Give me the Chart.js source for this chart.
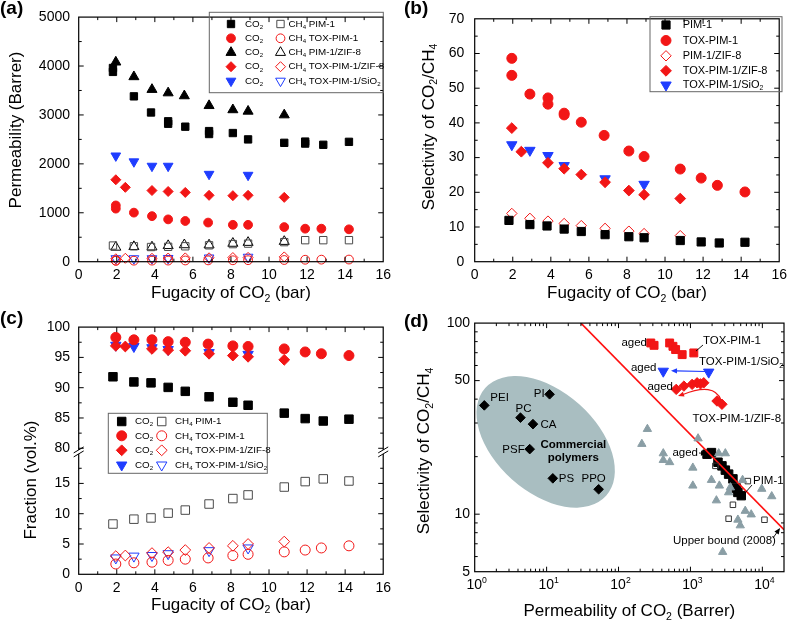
<!DOCTYPE html>
<html>
<head>
<meta charset="utf-8">
<script src="https://cdn.jsdelivr.net/npm/chart.js@4.4.1/dist/chart.umd.min.js"></script>
<style>
  body { margin: 0; background: #fff; }
  #wrap { position: relative; width: 792px; height: 627px; background: #fff; }
  canvas { position: absolute; }
</style>
</head>
<body>
<div id="wrap">
  <canvas id="ca" width="396" height="310" style="left:0;top:0"></canvas>
  <canvas id="cb" width="396" height="310" style="left:396px;top:0"></canvas>
  <canvas id="cc" width="396" height="317" style="left:0;top:310px"></canvas>
  <canvas id="cd" width="396" height="317" style="left:396px;top:310px"></canvas>
</div>
<script>
// ---------- (a) permeability vs fugacity ----------
const aPimX = [1.8, 1.8, 2.9, 3.8, 4.7, 4.7, 5.6, 6.85, 6.85, 8.1, 8.9, 10.8, 11.9, 11.9, 12.85, 14.2];
const aPimCO2 = [3880, 3960, 3380, 3050, 2870, 2820, 2760, 2670, 2610, 2630, 2500, 2430, 2455, 2415, 2390, 2450];
const aPimCH4X = [1.8, 2.9, 3.8, 4.7, 5.6, 6.85, 8.1, 8.9, 10.8, 11.9, 12.85, 14.2];
const aPimCH4 = [330, 315, 300, 305, 315, 335, 360, 370, 400, 440, 440, 440];
const aToxX = [1.95, 1.95, 2.9, 3.85, 4.7, 5.6, 6.8, 8.1, 8.9, 10.8, 11.9, 12.75, 14.2];
const aToxCO2 = [1150, 1085, 1003, 931, 865, 832, 800, 754, 754, 708, 675, 675, 662];
const aToxCH4 = [20, 20, 21, 22, 23, 25, 27, 29, 31, 35, 40, 42, 44];
const aPzX = [1.95, 2.9, 3.85, 4.7, 5.55, 6.85, 8.1, 8.9, 10.8];
const aPzCO2 = [4080, 3780, 3520, 3450, 3390, 3190, 3105, 3075, 3000];
const aPzCH4 = [295, 308, 300, 328, 345, 341, 375, 393, 413];
const aTzX = [1.95, 2.45, 3.85, 4.7, 5.6, 6.85, 8.1, 8.9, 10.8];
const aTzCO2 = [1675, 1520, 1455, 1435, 1416, 1357, 1350, 1357, 1315];
const aTzCH4 = [60, 70, 70, 75, 78, 80, 85, 88, 98];
const aTsX = [1.95, 2.9, 3.85, 4.7, 6.85, 8.9];
const aTsCO2 = [2165, 2045, 1955, 1955, 1790, 1770];
const aTsCH4 = [65, 65, 65, 70, 80, 95];

// ---------- (b) selectivity vs fugacity ----------
const bPimX = [1.8, 2.9, 3.8, 4.7, 5.6, 6.85, 8.1, 8.9, 10.8, 11.9, 12.85, 14.2];
const bPim = [11.9, 10.7, 10.3, 9.4, 8.7, 7.8, 7.2, 6.9, 6.1, 5.7, 5.4, 5.6];
const bToxX = [1.95, 1.95, 2.9, 3.85, 3.85, 4.7, 4.7, 5.6, 6.8, 8.1, 8.9, 10.8, 11.9, 12.75, 14.2];
const bTox = [58.6, 53.7, 48.3, 47.2, 45.4, 42.8, 42.3, 40.2, 36.4, 31.9, 30.3, 26.7, 24.1, 22.0, 20.1];
const bPzX = [1.95, 2.9, 3.85, 4.7, 5.6, 6.85, 8.1, 8.9, 10.8];
const bPz = [13.9, 12.5, 11.7, 11.0, 10.4, 9.6, 8.8, 8.1, 7.5];
const bTzX = [1.95, 2.45, 3.85, 4.7, 5.6, 6.85, 8.1, 8.9, 10.8];
const bTz = [38.5, 31.7, 28.5, 26.8, 25.1, 22.9, 20.5, 19.3, 18.2];
const bTsX = [1.95, 2.9, 3.85, 4.7, 6.85, 8.9];
const bTs = [33.7, 32.1, 30.6, 27.7, 23.9, 22.3];

// ---------- (c) permeate fraction vs fugacity ----------
const cPimX = [1.8, 2.9, 3.8, 4.7, 5.6, 6.85, 8.1, 8.9, 10.8, 11.9, 12.85, 14.2];
const cPimCO2 = [91.8, 90.95, 90.8, 90.05, 89.4, 88.5, 87.6, 87.1, 85.8, 84.9, 84.5, 84.8];
const cPimCH4 = [8.3, 9.1, 9.3, 10.1, 10.6, 11.6, 12.5, 13.1, 14.4, 15.3, 15.75, 15.4];
const cToxX = [1.95, 2.9, 3.85, 4.7, 5.6, 6.8, 8.1, 8.9, 10.8, 11.9, 12.75, 14.2];
const cToxCO2 = [98.3, 97.9, 97.9, 97.6, 97.5, 97.2, 96.9, 96.8, 96.4, 95.9, 95.6, 95.3];
const cToxCH4 = [1.7, 1.9, 2.0, 2.3, 2.5, 2.7, 3.1, 3.3, 3.7, 4.0, 4.35, 4.7];
const cTzX = [1.95, 2.45, 3.85, 4.7, 5.6, 6.85, 8.1, 8.9, 10.8];
const cTzCO2 = [96.9, 96.8, 96.4, 96.2, 96.1, 95.6, 95.3, 95.1, 94.6];
const cTzCH4 = [3.0, 3.1, 3.5, 3.65, 4.0, 4.35, 4.7, 5.0, 5.4];
const cTsX = [1.95, 2.9, 3.85, 4.7, 6.85, 8.9];
const cTsCO2 = [97.0, 96.8, 96.6, 96.3, 95.8, 95.5];
const cTsCH4 = [2.7, 3.0, 3.1, 3.4, 3.9, 4.35];

// ---------- (d) Robeson plot ----------
const dLitX = [252, 211, 419, 419, 514, 1277, 1080, 1080, 1959, 2472, 3057, 2525, 2296, 3396, 3589, 5309, 5781, 7000, 4570, 4930, 9810, 13500, 2806];
const dLitY = [27.9, 23.3, 20.8, 19.2, 18.7, 24.9, 17.5, 14.1, 15.1, 20.8, 20.8, 14.1, 11.8, 13.0, 13.8, 15.1, 10.4, 9.96, 9.35, 8.73, 13.56, 12.4, 6.34];
const dOldPimX = [2224, 6280, 3897, 3396, 10700];
const dOldPimY = [17.9, 14.9, 11.2, 9.47, 9.35];
const dPimX = [1702, 1959, 2415, 2742, 3057, 3396, 3897, 4343, 4570, 5090];
const dPimY = [20.6, 21.0, 18.7, 17.9, 17.0, 16.2, 15.3, 13.7, 13.0, 12.5];
const dToxX = [281, 312, 514, 571, 622, 767, 1114];
const dToxY = [78.7, 76.5, 78.7, 75.6, 72.7, 68.4, 69.8];
const dTsX = [419, 1796];
const dTsY = [56.0, 55.4];
const dTzX = [634, 811, 1055, 1238, 1380, 1532, 2340, 2742];
const dTzY = [45.0, 46.8, 47.8, 48.7, 48.1, 48.7, 39.1, 37.6];
const dComNames = ['PEI', 'PI', 'PC', 'CA', 'PSF', 'PS', 'PPO'];
const dComX = [1.36, 11.0, 4.33, 6.46, 5.82, 12.2, 52.9];
const dComY = [37.1, 42.4, 32.0, 29.6, 21.9, 15.4, 13.5];
const dBoundX = [30, 20000];
const dBoundY = [100, 8.3];

// ---------- styling ----------
const FONT = '"Liberation Sans", Arial, Helvetica, sans-serif';
const RED = '#f21616', BLUE = '#1f3dff', BLACK = '#000000', DGRAY = '#4a4a4a';
const TRI = '#8a9ea5', ELLIPSE = '#a9bec1';

const range = (a, b, s) => { const r = []; for (let v = a; v <= b + 1e-9; v += s) r.push(+v.toFixed(6)); return r; };
const plain = v => String(Math.round(v * 100) / 100);

function mk(shape, color, r, open) { return { shape, color, r, open: !!open }; }

const SHAPES = { sq: ['rect', 0], ci: ['circle', 0], tu: ['triangle', 0], td: ['triangle', 180], di: ['rectRot', 0] };

function series(xs, ys, m, tf) {
  return {
    data: xs.map((x, i) => ({ x, y: tf ? tf(ys[i]) : ys[i] })),
    pointStyle: SHAPES[m.shape][0],
    pointRotation: SHAPES[m.shape][1],
    pointRadius: m.r, pointHoverRadius: m.r,
    backgroundColor: m.open ? 'rgba(0,0,0,0)' : m.color,
    borderColor: m.color,
    pointBorderWidth: 1,
    clip: false
  };
}

// text with _x subscripts and ^x superscripts
function richParts(str) {
  const parts = [], re = /([_^])(.)/g;
  let last = 0, m;
  while ((m = re.exec(str))) {
    if (m.index > last) parts.push({ t: str.slice(last, m.index), k: '' });
    parts.push({ t: m[2], k: m[1] });
    last = re.lastIndex;
  }
  if (last < str.length) parts.push({ t: str.slice(last), k: '' });
  return parts;
}
function drawRich(ctx, str, x, y, size, o) {
  o = o || {};
  const parts = richParts(str);
  const f = s => (o.bold ? 'bold ' : '') + s + 'px ' + FONT;
  let total = 0;
  parts.forEach(p => { ctx.font = f(p.k ? size * 0.62 : size); p.w = ctx.measureText(p.t).width; total += p.w; });
  let sx = o.align === 'center' ? -total / 2 : o.align === 'right' ? -total : 0;
  ctx.save();
  ctx.translate(x, y);
  if (o.rot) ctx.rotate(o.rot);
  ctx.textBaseline = 'middle';
  ctx.textAlign = 'left';
  ctx.fillStyle = o.color || '#000';
  parts.forEach(p => {
    ctx.font = f(p.k ? size * 0.62 : size);
    const dy = p.k === '_' ? size * 0.32 : p.k === '^' ? -size * 0.33 : 0;
    ctx.fillText(p.t, sx, dy);
    sx += p.w;
  });
  ctx.restore();
}

function drawMarker(ctx, m, x, y) {
  const r = m.r;
  ctx.beginPath();
  if (m.shape === 'sq') { const h = r * Math.SQRT1_2; ctx.rect(x - h, y - h, 2 * h, 2 * h); }
  else if (m.shape === 'ci') ctx.arc(x, y, r, 0, 2 * Math.PI);
  else if (m.shape === 'di') { ctx.moveTo(x - r, y); ctx.lineTo(x, y - r); ctx.lineTo(x + r, y); ctx.lineTo(x, y + r); ctx.closePath(); }
  else {
    const s = m.shape === 'tu' ? 1 : -1;
    ctx.moveTo(x, y - s * r); ctx.lineTo(x + 0.866 * r, y + s * 0.5 * r); ctx.lineTo(x - 0.866 * r, y + s * 0.5 * r); ctx.closePath();
  }
  ctx.strokeStyle = m.color; ctx.lineWidth = 1;
  if (!m.open) { ctx.fillStyle = m.color; ctx.fill(); }
  ctx.stroke();
}

function drawLegend(ctx, L) {
  ctx.save();
  ctx.strokeStyle = '#666'; ctx.lineWidth = 1;
  ctx.strokeRect(L.box[0], L.box[1], L.box[2] - L.box[0], L.box[3] - L.box[1]);
  L.rows.forEach((r, i) => {
    const y = L.rowY[i];
    r.marks.forEach((m, j) => drawMarker(ctx, m, L.markX[j], y));
    r.texts.forEach((t, j) => drawRich(ctx, t, L.textX[j], y, L.size));
  });
  ctx.restore();
}

function arrowHead(ctx, x0, y0, x1, y1, color) {
  const a = Math.atan2(y1 - y0, x1 - x0), L = 6, W = 2.6;
  ctx.save();
  ctx.fillStyle = color;
  ctx.beginPath();
  ctx.moveTo(x1, y1);
  ctx.lineTo(x1 - L * Math.cos(a) + W * Math.sin(a), y1 - L * Math.sin(a) - W * Math.cos(a));
  ctx.lineTo(x1 - L * Math.cos(a) - W * Math.sin(a), y1 - L * Math.sin(a) + W * Math.cos(a));
  ctx.closePath();
  ctx.fill();
  ctx.restore();
}

function decor(o) {
  return {
    id: 'decor',
    beforeDatasetsDraw(chart) { if (o.under) o.under(chart); },
    afterDraw(chart) {
      const ctx = chart.ctx, a = chart.chartArea, sx = chart.scales.x, sy = chart.scales.y;
      ctx.save();
      ctx.strokeStyle = '#000';
      ctx.lineWidth = 1.2;
      ctx.strokeRect(a.left, a.top, a.right - a.left, a.bottom - a.top);
      ctx.lineWidth = 1;
      ctx.beginPath();
      const tx = (vals, len) => vals.forEach(v => {
        const p = sx.getPixelForValue(v);
        if (p < a.left + 0.5 || p > a.right - 0.5) return;
        ctx.moveTo(p, a.bottom); ctx.lineTo(p, a.bottom - len);
        ctx.moveTo(p, a.top); ctx.lineTo(p, a.top + len);
      });
      const ty = (vals, len) => vals.forEach(v => {
        const p = sy.getPixelForValue(v);
        if (p < a.top + 0.5 || p > a.bottom - 0.5) return;
        ctx.moveTo(a.left, p); ctx.lineTo(a.left + len, p);
        ctx.moveTo(a.right, p); ctx.lineTo(a.right - len, p);
      });
      tx(o.xMajor, 5); tx(o.xMinor, 3); ty(o.yMajor, 5); ty(o.yMinor, 3);
      ctx.stroke();
      if (o.breakAt != null) {
        const yb = sy.getPixelForValue(o.breakAt);
        [a.left, a.right].forEach(x => {
          ctx.fillStyle = '#fff';
          ctx.fillRect(x - 3, yb - 2, 6, 4);
          ctx.beginPath();
          ctx.moveTo(x - 5, yb + 1); ctx.lineTo(x + 5, yb - 5);
          ctx.moveTo(x - 5, yb + 5); ctx.lineTo(x + 5, yb - 1);
          ctx.lineWidth = 1; ctx.strokeStyle = '#000';
          ctx.stroke();
        });
      }
      drawRich(ctx, o.xTitle, (a.left + a.right) / 2, o.xTitleY, 17, { align: 'center' });
      drawRich(ctx, o.yTitle, o.yTitleX, o.yTitleMid, 17, { align: 'center', rot: -Math.PI / 2 });
      drawRich(ctx, o.tag, o.tagX, o.tagY, 19, { bold: true });
      if (o.legend) drawLegend(ctx, o.legend);
      if (o.over) o.over(chart);
      ctx.restore();
    }
  };
}

function panel(id, o) {
  const tickFont = { family: FONT, size: 14 };
  return new Chart(document.getElementById(id), {
    type: 'scatter',
    data: { datasets: o.datasets },
    options: {
      responsive: false, animation: false, events: [],
      layout: { autoPadding: false, padding: { left: 0, top: o.top, right: o.right, bottom: 0 } },
      plugins: { legend: { display: false }, tooltip: { enabled: false } },
      scales: {
        x: Object.assign({
          type: 'linear', position: 'bottom',
          grid: { display: false, drawTicks: false }, border: { display: false },
          ticks: { font: tickFont, color: '#000', padding: 5, maxRotation: 0, autoSkip: false },
          afterFit: s => { s.height = o.xH; }
        }, o.x),
        y: Object.assign({
          type: 'linear', position: 'left',
          grid: { display: false, drawTicks: false }, border: { display: false },
          ticks: { font: tickFont, color: '#000', padding: o.yPad, autoSkip: false },
          afterFit: s => { s.width = 78.7; }
        }, o.y)
      }
    },
    plugins: [decor(o)]
  });
}

const linTicks = (pad, step) => ({ font: { family: FONT, size: 14 }, color: '#000', padding: pad, stepSize: step, maxRotation: 0, callback: plain });

// markers
const M = {
  pimF: mk('sq', BLACK, 5.2), pimO: mk('sq', DGRAY, 5.2, true),
  toxF: mk('ci', RED, 4.4), toxO: mk('ci', RED, 4.4, true),
  pzF: mk('tu', BLACK, 5.8), pzO: mk('tu', BLACK, 5.8, true),
  tzF: mk('di', RED, 5), tzO: mk('di', RED, 5, true),
  tsF: mk('td', BLUE, 5.6), tsO: mk('td', BLUE, 5.6, true)
};
const MB = {
  pim: mk('sq', BLACK, 5.8), tox: mk('ci', RED, 5), pz: mk('di', RED, 5.2, true),
  tz: mk('di', RED, 5.4), ts: mk('td', BLUE, 6)
};
const MC = {
  pimF: mk('sq', BLACK, 6), pimO: mk('sq', DGRAY, 6, true),
  toxF: mk('ci', RED, 5), toxO: mk('ci', RED, 5, true),
  tzF: mk('di', RED, 5.4), tzO: mk('di', RED, 5.4, true),
  tsF: mk('td', BLUE, 6), tsO: mk('td', BLUE, 6, true)
};

// ---------- panel (a) ----------
panel('ca', {
  top: 7.3, right: 9.3, xH: 48.3, yPad: 8.7,
  x: { min: 0, max: 16, ticks: linTicks(5, 2) },
  y: { min: 0, max: 5000, ticks: linTicks(8.7, 1000) },
  xMajor: range(0, 16, 2), xMinor: range(1, 15, 2), yMajor: range(0, 5000, 1000), yMinor: range(500, 4500, 1000),
  xTitle: 'Fugacity of CO_2 (bar)', xTitleY: 293.3,
  yTitle: 'Permeability (Barrer)', yTitleX: 16.7, yTitleMid: 130,
  tag: '(a)', tagX: 0, tagY: 9,
  legend: {
    box: [209.3, 12.3, 383.3, 92.7], rowY: [24, 38.3, 52.5, 66.7, 81], markX: [231, 280.5], textX: [245, 288.5], size: 9.8,
    rows: [
      { marks: [M.pimF, M.pimO], texts: ['CO_2', 'CH_4 PIM-1'] },
      { marks: [M.toxF, M.toxO], texts: ['CO_2', 'CH_4 TOX-PIM-1'] },
      { marks: [M.pzF, M.pzO], texts: ['CO_2', 'CH_4 PIM-1/ZIF-8'] },
      { marks: [M.tzF, M.tzO], texts: ['CO_2', 'CH_4 TOX-PIM-1/ZIF-8'] },
      { marks: [M.tsF, M.tsO], texts: ['CO_2', 'CH_4 TOX-PIM-1/SiO_2'] }
    ]
  },
  datasets: [
    series(aPimCH4X, aPimCH4, M.pimO),
    series(aToxX, aToxCH4, M.toxO),
    series(aPzX, aPzCH4, M.pzO),
    series(aTzX, aTzCH4, M.tzO),
    series(aTsX, aTsCH4, M.tsO),
    series(aPimX, aPimCO2, M.pimF),
    series(aToxX, aToxCO2, M.toxF),
    series(aPzX, aPzCO2, M.pzF),
    series(aTzX, aTzCO2, M.tzF),
    series(aTsX, aTsCO2, M.tsF)
  ]
});

// ---------- panel (b) ----------
panel('cb', {
  top: 7.3, right: 9.3, xH: 48.3, yPad: 10.4,
  x: { min: 0, max: 16, ticks: linTicks(5, 2) },
  y: { min: 0, max: 70, ticks: linTicks(10.4, 10) },
  xMajor: range(0, 16, 2), xMinor: range(1, 15, 2), yMajor: range(0, 70, 10), yMinor: range(5, 65, 10),
  xTitle: 'Fugacity of CO_2 (bar)', xTitleY: 293.3,
  yTitle: 'Selectivity of CO_2/CH_4', yTitleX: 33, yTitleMid: 127,
  tag: '(b)', tagX: 8, tagY: 9,
  legend: {
    box: [254, 16.7, 386, 91.7], rowY: [25, 40.5, 55.8, 70.8, 85], markX: [270], textX: [286.7], size: 11,
    rows: [
      { marks: [MB.pim], texts: ['PIM-1'] },
      { marks: [MB.tox], texts: ['TOX-PIM-1'] },
      { marks: [MB.pz], texts: ['PIM-1/ZIF-8'] },
      { marks: [MB.tz], texts: ['TOX-PIM-1/ZIF-8'] },
      { marks: [MB.ts], texts: ['TOX-PIM-1/SiO_2'] }
    ]
  },
  datasets: [
    series(bPimX, bPim, MB.pim),
    series(bToxX, bTox, MB.tox),
    series(bPzX, bPz, MB.pz),
    series(bTzX, bTz, MB.tz),
    series(bTsX, bTs, MB.ts)
  ]
});

// ---------- panel (c) : broken y axis 0-19 / 80-100 ----------
const C_SHIFT = 59.2;
const cT = v => (v > 50 ? v - C_SHIFT : v);
const cYTicks = [0, 5, 10, 15, 80, 85, 90, 95, 100];
panel('cc', {
  top: 11, right: 9.3, xH: 52.7, yPad: 8.7,
  x: { min: 0, max: 16, ticks: linTicks(5, 2) },
  y: {
    min: 0, max: cT(100),
    afterBuildTicks: s => { s.ticks = cYTicks.map(v => ({ value: cT(v) })); },
    ticks: { font: { family: FONT, size: 14 }, color: '#000', padding: 8.7, autoSkip: false,
      callback: v => String(v > 20 ? Math.round(v + C_SHIFT) : Math.round(v)) }
  },
  xMajor: range(0, 16, 2), xMinor: range(1, 15, 2),
  yMajor: cYTicks.map(cT), yMinor: [2.5, 7.5, 12.5, 17.5, 82.5, 87.5, 92.5, 97.5].map(cT),
  breakAt: 20.2,
  xTitle: 'Fugacity of CO_2 (bar)', xTitleY: 295,
  yTitle: 'Fraction (vol.%)', yTitleX: 31.7, yTitleMid: 170,
  tag: '(c)', tagX: 0, tagY: 8.5,
  legend: {
    box: [108.3, 103.3, 267.3, 163.3], rowY: [111.5, 125.8, 140.3, 155], markX: [121.7, 161.7], textX: [135, 175], size: 9.8,
    rows: [
      { marks: [MC.pimF, MC.pimO], texts: ['CO_2', 'CH_4 PIM-1'] },
      { marks: [MC.toxF, MC.toxO], texts: ['CO_2', 'CH_4 TOX-PIM-1'] },
      { marks: [MC.tzF, MC.tzO], texts: ['CO_2', 'CH_4 TOX-PIM-1/ZIF-8'] },
      { marks: [MC.tsF, MC.tsO], texts: ['CO_2', 'CH_4 TOX-PIM-1/SiO_2'] }
    ]
  },
  datasets: [
    series(cPimX, cPimCO2, MC.pimF, cT),
    series(cToxX, cToxCO2, MC.toxF, cT),
    series(cTzX, cTzCO2, MC.tzF, cT),
    series(cTsX, cTsCO2, MC.tsF, cT),
    series(cPimX, cPimCH4, MC.pimO, cT),
    series(cToxX, cToxCH4, MC.toxO, cT),
    series(cTzX, cTzCH4, MC.tzO, cT),
    series(cTsX, cTsCH4, MC.tsO, cT)
  ]
});

// ---------- panel (d) ----------
const MD = {
  lit: mk('tu', TRI, 4.8), old: mk('sq', '#333', 3.9, true), pim: mk('sq', BLACK, 6),
  tox: mk('sq', RED, 5.6), ts: mk('td', BLUE, 6), tz: mk('di', RED, 5.2), com: mk('di', BLACK, 4.8)
};
const comLabels = [[6, -8, 'left'], [-5, 0, 'right'], [3, -8.5, 'center'], [7.5, 1, 'left'], [-5, 0.7, 'right'], [6, 0.6, 'left'], [-5, -10.7, 'center']];
const dLogMinor = [];
[1, 10, 100, 1000, 10000].forEach(d => { for (let k = 2; k <= 9; k++) if (k * d < 20000) dLogMinor.push(k * d); });

const boundDs = {
  data: dBoundX.map((x, i) => ({ x, y: dBoundY[i] })),
  showLine: true, borderColor: '#ff1010', borderWidth: 1.6, pointRadius: 0, pointHoverRadius: 0
};

panel('cd', {
  top: 11.7, right: 8, xH: 55.3, yPad: 4.7,
  x: { type: 'logarithmic', min: 1, max: 20000, ticks: { display: false } },
  y: {
    type: 'logarithmic', min: 5, max: 100,
    afterBuildTicks: s => { s.ticks = [5, 10, 50, 100].map(v => ({ value: v })); },
    ticks: { font: { family: FONT, size: 14 }, color: '#000', padding: 4.7, autoSkip: false, callback: v => String(v) }
  },
  xMajor: [1, 10, 100, 1000, 10000], xMinor: dLogMinor,
  yMajor: [5, 10, 50, 100], yMinor: [6, 7, 8, 9, 20, 30, 40, 60, 70, 80, 90],
  xTitle: 'Permeability of CO_2 (Barrer)', xTitleY: 301.7,
  yTitle: 'Selectivity of CO_2/CH_4', yTitleX: 28.3, yTitleMid: 141,
  tag: '(d)', tagX: 8, tagY: 11.5,
  under: chart => {
    const ctx = chart.ctx, sx = chart.scales.x, sy = chart.scales.y;
    ctx.save();
    ctx.fillStyle = ELLIPSE;
    ctx.beginPath();
    ctx.ellipse(sx.getPixelForValue(9.7), sy.getPixelForValue(23.9), 81, 50.5, 41.7 * Math.PI / 180, 0, 2 * Math.PI);
    ctx.fill();
    ctx.restore();
  },
  over: chart => {
    const ctx = chart.ctx, a = chart.chartArea, sx = chart.scales.x, sy = chart.scales.y;
    [1, 10, 100, 1000, 10000].forEach((v, i) => drawRich(ctx, '10^' + i, sx.getPixelForValue(v) + 2, a.bottom + 13.5, 14, { align: 'center' }));
    dComNames.forEach((n, i) => {
      const l = comLabels[i];
      drawRich(ctx, n, sx.getPixelForValue(dComX[i]) + l[0], sy.getPixelForValue(dComY[i]) + l[1], 11.5, { align: l[2] });
    });
    drawRich(ctx, 'Commercial', 177.3, 135, 11.5, { align: 'center', bold: true });
    drawRich(ctx, 'polymers', 177.3, 147.5, 11.5, { align: 'center', bold: true });
    const notes = [
      ['aged', 251, 33, 'right'], ['TOX-PIM-1', 307, 31, 'left'],
      ['aged', 260.5, 58, 'right'], ['TOX-PIM-1/SiO_2', 303, 52, 'left'],
      ['aged', 277, 76.5, 'right'], ['TOX-PIM-1/ZIF-8', 296.5, 108.5, 'left'],
      ['aged', 302, 143, 'right'], ['PIM-1', 357, 171, 'left'],
      ['Upper bound (2008)', 277, 231, 'left']
    ];
    notes.forEach(n => drawRich(ctx, n[0], n[1], n[2], 11.5, { align: n[3] }));
    ctx.lineWidth = 0.9; ctx.strokeStyle = '#000';
    ctx.beginPath();
    ctx.moveTo(307, 35); ctx.lineTo(300, 41);
    ctx.moveTo(303, 143); ctx.lineTo(308, 143.3);
    ctx.moveTo(356, 175); ctx.lineTo(349, 183);
    ctx.moveTo(377, 228); ctx.lineTo(383, 219.5);
    ctx.stroke();
    arrowHead(ctx, 303, 143, 311, 143.5, '#000');
    arrowHead(ctx, 377, 228, 384, 218, '#000');
    // blue ageing arrow
    ctx.strokeStyle = BLUE; ctx.lineWidth = 1.2;
    ctx.beginPath(); ctx.moveTo(309, 61.5); ctx.lineTo(280, 60.8); ctx.stroke();
    arrowHead(ctx, 309, 61.5, 275, 60.7, BLUE);
    // red ageing curve
    ctx.strokeStyle = RED;
    ctx.beginPath(); ctx.moveTo(325, 90); ctx.quadraticCurveTo(318, 72, 287, 84.5); ctx.stroke();
    arrowHead(ctx, 300, 80, 282, 86, RED);
  },
  datasets: [
    series(dLitX, dLitY, MD.lit),
    series(dOldPimX, dOldPimY, MD.old),
    boundDs,
    series(dPimX, dPimY, MD.pim),
    series(dToxX, dToxY, MD.tox),
    series(dTsX, dTsY, MD.ts),
    series(dTzX, dTzY, MD.tz),
    series(dComX, dComY, MD.com)
  ]
});
</script>
</body>
</html>
